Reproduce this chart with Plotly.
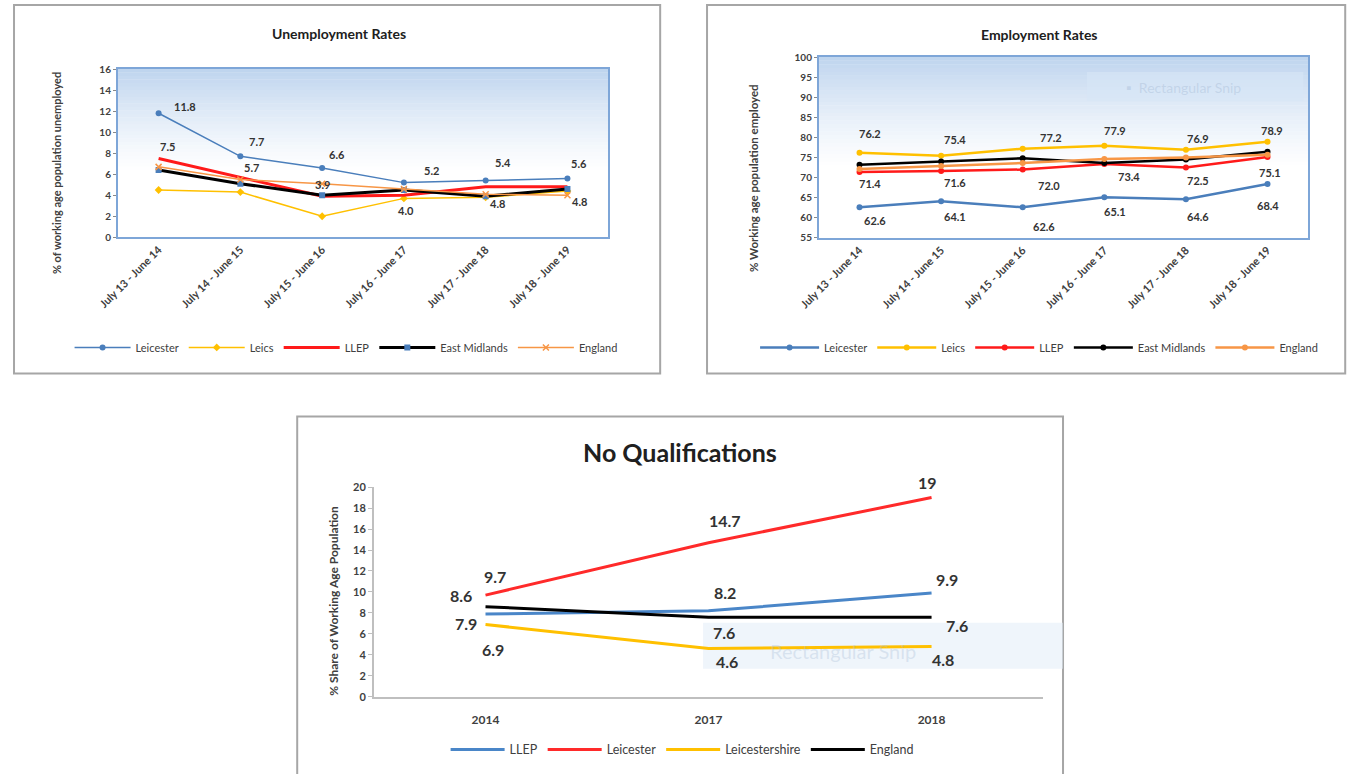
import plotly.graph_objects as go

# ---------------- data ----------------
periods = ["July 13 - June 14", "July 14 - June 15", "July 15 - June 16",
           "July 16 - June 17", "July 17 - June 18", "July 18 - June 19"]

unemp_leicester = [11.8, 7.7, 6.6, 5.2, 5.4, 5.6]
unemp_leics = [4.5, 4.3, 2.0, 3.7, 3.8, 4.4]
unemp_llep = [7.5, 5.7, 3.9, 4.0, 4.8, 4.8]
unemp_eastmid = [6.4, 5.1, 4.0, 4.5, 3.9, 4.6]
unemp_england = [6.7, 5.5, 5.1, 4.6, 4.1, 4.0]

emp_leicester = [62.6, 64.1, 62.6, 65.1, 64.6, 68.4]
emp_leics = [76.2, 75.4, 77.2, 77.9, 76.9, 78.9]
emp_llep = [71.4, 71.6, 72.0, 73.4, 72.5, 75.1]
emp_eastmid = [73.2, 74.0, 74.8, 73.6, 74.5, 76.4]
emp_england = [72.1, 72.9, 73.6, 74.6, 75.0, 75.7]

years = ["2014", "2017", "2018"]
noq_llep = [7.9, 8.2, 9.9]
noq_leicester = [9.7, 14.7, 19]
noq_leicestershire = [6.9, 4.6, 4.8]
noq_england = [8.6, 7.6, 7.6]

# ---------------- style ----------------
FONT = "Lato"
TXT = "#404040"
BLUE = "#4a7ebb"
YELLOW = "#ffc000"
RED = "#ff1a1a"
ORANGE = "#f79646"
BLACK = "#000000"
W, H = 1350, 774
# mapping from target picture pixels to figure pixels (compensates page offset)
OX, OY, SX, SY = 18.0, 7.0, 0.988, 0.982


def px_x(p):
    return ((p - OX) / SX) / W


def px_y(p):
    return 1 - ((p - OY) / SY) / H


fig = go.Figure()

# ---------- Unemployment ----------
fig.add_trace(go.Scatter(x=periods, y=unemp_leicester, name="Leicester", mode="lines+markers",
                         line=dict(color=BLUE, width=1.5), marker=dict(size=6, color=BLUE),
                         xaxis="x", yaxis="y", legend="legend"))
fig.add_trace(go.Scatter(x=periods, y=unemp_leics, name="Leics", mode="lines+markers",
                         line=dict(color=YELLOW, width=1.5), marker=dict(size=6, color=YELLOW, symbol="diamond"),
                         xaxis="x", yaxis="y", legend="legend"))
fig.add_trace(go.Scatter(x=periods, y=unemp_llep, name="LLEP", mode="lines",
                         line=dict(color=RED, width=3),
                         xaxis="x", yaxis="y", legend="legend"))
fig.add_trace(go.Scatter(x=periods, y=unemp_eastmid, name="East Midlands", mode="lines+markers",
                         line=dict(color=BLACK, width=3), marker=dict(size=6, color=BLUE, symbol="square"),
                         xaxis="x", yaxis="y", legend="legend"))
fig.add_trace(go.Scatter(x=periods, y=unemp_england, name="England", mode="lines+markers",
                         line=dict(color=ORANGE, width=1.5),
                         marker=dict(size=6, color=ORANGE, symbol="x-thin", line=dict(color=ORANGE, width=1.5)),
                         xaxis="x", yaxis="y", legend="legend"))

# ---------- Employment ----------
for name, vals, col in [("Leicester", emp_leicester, BLUE), ("Leics", emp_leics, YELLOW),
                        ("LLEP", emp_llep, RED), ("East Midlands", emp_eastmid, BLACK),
                        ("England", emp_england, ORANGE)]:
    fig.add_trace(go.Scatter(x=periods, y=vals, name=name, mode="lines+markers",
                             line=dict(color=col, width=2.5), marker=dict(size=6, color=col),
                             xaxis="x2", yaxis="y2", legend="legend2"))

# ---------- No Qualifications ----------
for name, vals, col in [("LLEP", noq_llep, "#4a86c8"), ("Leicester", noq_leicester, "#ff2a2a"),
                        ("Leicestershire", noq_leicestershire, YELLOW), ("England", noq_england, BLACK)]:
    fig.add_trace(go.Scatter(x=years, y=vals, name=name, mode="lines",
                             line=dict(color=col, width=3),
                             xaxis="x3", yaxis="y3", legend="legend3"))

# ---------- axes ----------
tickf = dict(size=10, color=TXT, family=FONT, weight="bold")
xtickf = dict(size=11, color=TXT, family=FONT, weight="bold")
axis_blue = "#7ea6d8"

fig.update_layout(
    xaxis=dict(domain=[px_x(116), px_x(608)], anchor="y", type="category", range=[-0.5, 5.5],
               tickangle=-45, tickfont=xtickf,
               showline=True, linecolor=axis_blue, linewidth=1.5, mirror=True,
               showgrid=False, ticks="", zeroline=False),
    yaxis=dict(domain=[px_y(237), px_y(69)], anchor="x", range=[0, 16], dtick=2,
               tickfont=tickf, showline=True, linecolor=axis_blue, linewidth=1.5, mirror=True,
               showgrid=False, ticks="outside", ticklen=3, tickcolor="#888", zeroline=False),
    xaxis2=dict(domain=[px_x(819), px_x(1310)], anchor="y2", type="category", range=[-0.5, 5.5],
                tickangle=-45, tickfont=xtickf,
                showline=True, linecolor=axis_blue, linewidth=1.5, mirror=True,
                showgrid=False, ticks="", zeroline=False),
    yaxis2=dict(domain=[px_y(237.5), px_y(57)], anchor="x2", range=[55, 100], dtick=5,
                tickfont=tickf, showline=True, linecolor=axis_blue, linewidth=1.5, mirror=True,
                showgrid=False, ticks="outside", ticklen=3, tickcolor="#888", zeroline=False),
    xaxis3=dict(domain=[px_x(373), px_x(1044)], anchor="y3", type="category", range=[-0.5, 2.5],
                tickfont=dict(size=12, color=TXT, family=FONT, weight="bold"), ticklabelstandoff=11,
                showline=True, linecolor="#bfbfbf", linewidth=2,
                showgrid=False, ticks="", zeroline=False),
    yaxis3=dict(domain=[px_y(696), px_y(486.5)], anchor="x3", range=[0, 20], dtick=2,
                tickfont=dict(size=11, color=TXT, family=FONT, weight="bold"), showline=True,
                linecolor="#bfbfbf", linewidth=2, showgrid=False, ticks="outside", ticklen=4,
                tickcolor="#bfbfbf", zeroline=False),
)

# ---------- legends ----------
leg_common = dict(orientation="h", xanchor="center", yanchor="middle", bgcolor="rgba(0,0,0,0)",
                  tracegroupgap=0)
fig.update_layout(
    legend=dict(x=px_x(345), y=px_y(347), font=dict(size=11, color=TXT, family=FONT),
                itemwidth=56, **leg_common),
    legend2=dict(x=px_x(1040), y=px_y(347), font=dict(size=11, color=TXT, family=FONT),
                 itemwidth=59, **leg_common),
    legend3=dict(x=px_x(682), y=px_y(749), font=dict(size=12.5, color=TXT, family=FONT),
                 itemwidth=54, **leg_common),
)

# ---------- shapes: frames, gradients, snip artefacts ----------
shapes = []
for (x0, y0, x1, y1) in [(12, 5, 660, 373), (707, 5, 1347, 373), (296, 416, 1064, 776)]:
    shapes.append(dict(type="rect", xref="paper", yref="paper",
                       x0=px_x(x0), x1=px_x(x1), y0=px_y(y1), y1=px_y(y0),
                       line=dict(color="#a6a6a6", width=2), fillcolor="rgba(0,0,0,0)", layer="below"))


def lerp(c1, c2, t):
    return "rgb(%d,%d,%d)" % tuple(round(a + (b - a) * t) for a, b in zip(c1, c2))


top = (190, 212, 238)
white = (255, 255, 255)
n = 30
start = 0.38
for ax in ["", "2"]:
    for i in range(n):
        f0 = start + (1 - start) * i / n
        f1 = start + (1 - start) * (i + 1) / n
        t = (i + 0.5) / n
        shapes.append(dict(type="rect", xref=f"x{ax} domain", yref=f"y{ax} domain",
                           x0=0, x1=1, y0=f0, y1=f1 + 0.002, line=dict(width=0),
                           fillcolor=lerp(white, top, t ** 1.3), layer="below"))

shapes.append(dict(type="rect", xref="paper", yref="paper", x0=px_x(1088), x1=px_x(1305),
                   y0=px_y(101), y1=px_y(72), line=dict(width=0), fillcolor="rgba(215,230,246,0.6)",
                   layer="below"))
shapes.append(dict(type="rect", xref="paper", yref="paper", x0=px_x(703), x1=px_x(1064),
                   y0=px_y(668), y1=px_y(622), line=dict(width=0), fillcolor="rgba(225,236,247,0.55)",
                   layer="below"))
fig.update_layout(shapes=shapes)

# ---------- annotations ----------
ann = []


def paper_text(text, x, y, size, color="#202020", angle=0, weight="normal"):
    ann.append(dict(text=text, x=px_x(x), y=px_y(y), xref="paper", yref="paper",
                    xanchor="center", yanchor="middle", showarrow=False, textangle=angle,
                    font=dict(size=size, color=color, family=FONT, weight=weight)))


paper_text("<b>Unemployment Rates</b>", 338, 33, 14)
paper_text("<b>Employment Rates</b>", 1040, 34, 14)
paper_text("<b>No Qualifications</b>", 680, 451, 25)
paper_text("% of working age population unemployed", 54, 173, 11, TXT, -90, "bold")
paper_text("% Working age population employed", 753, 178, 11.5, TXT, -90, "bold")
paper_text("% Share of Working Age Population", 333, 600, 12, TXT, -90, "bold")
paper_text("\u25aa  Rectangular Snip", 1185, 87, 14, "rgba(170,190,215,0.45)")
paper_text("Rectangular Snip", 843, 650, 20, "rgba(170,190,215,0.35)")


def point_labels(n_cats, vals, xa, ya, shifts, size, fmtstr="{:.1f}"):
    # category axes: annotation x given as category index
    for i, v, (dx, dy) in zip(range(n_cats), vals, shifts):
        ann.append(dict(text=fmtstr.format(v), x=i, y=v, xref=xa, yref=ya,
                        xshift=dx, yshift=-dy, showarrow=False,
                        xanchor="center", yanchor="middle",
                        font=dict(size=size, color="#333333", family=FONT, weight="bold")))


# label offsets in screen pixels (dx right, dy down)
P, Y = len(periods), len(years)
point_labels(P, unemp_leicester, "x", "y",
             [(26, -7), (16, -15), (15, -13), (28, -12), (17, -18), (12, -15)], 11)
point_labels(P, unemp_llep, "x", "y",
             [(9, -12), (11, -10), (0, -12), (2, 15), (12, 17), (12, 15)], 11)
point_labels(P, emp_leics, "x2", "y2",
             [(10, -19), (14, -16), (28, -11), (11, -15), (12, -11), (4, -11)], 11)
point_labels(P, emp_llep, "x2", "y2",
             [(10, 12), (14, 11), (26, 16), (25, 13), (12, 13), (2, 15)], 11)
point_labels(P, emp_leicester, "x2", "y2",
             [(15, 13), (14, 15), (21, 19), (11, 14), (12, 17), (0, 22)], 11)
point_labels(Y, noq_llep, "x3", "y3", [(-19, 10), (16, -18), (15, -14)], 16, "{:g}")
point_labels(Y, noq_leicester, "x3", "y3", [(10, -19), (16, -22), (-4, -15)], 16, "{:g}")
point_labels(Y, noq_leicestershire, "x3", "y3", [(8, 25), (18, 13), (11, 13)], 16, "{:g}")
point_labels(Y, noq_england, "x3", "y3", [(-24, -11), (15, 15), (25, 8)], 16, "{:g}")

fig.update_layout(annotations=ann)

fig.update_layout(width=W, height=H, margin=dict(l=0, r=0, t=0, b=0),
                  paper_bgcolor="white", plot_bgcolor="white",
                  font=dict(family=FONT, color=TXT), showlegend=True)

fig.write_html("out.html")
